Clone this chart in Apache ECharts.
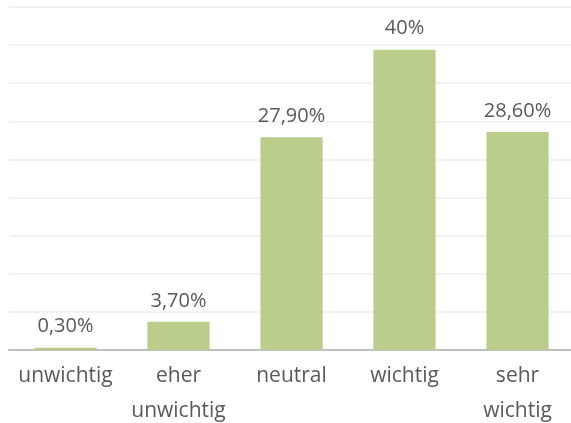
<!DOCTYPE html>
<html><head><meta charset="utf-8">
<script src="https://cdn.jsdelivr.net/npm/echarts@6/dist/echarts.min.js"></script>
<style>html,body{margin:0;padding:0;background:#fff}#c{width:571px;height:423px}</style>
</head><body><div id="c"></div>
<script>
const categories = ['unwichtig', 'eher\nunwichtig', 'neutral', 'wichtig', 'sehr\nwichtig'];
const values = [0.3, 3.7, 27.9, 39.4, 28.6];
const valueLabels = ['0,30%', '3,70%', '27,90%', '40%', '28,60%'];

const chart = echarts.init(document.getElementById('c'), null, {renderer: 'canvas'});
chart.setOption({
  animation: false,
  grid: {left: 9, right: -3, top: 7, bottom: 73, containLabel: false, outerBoundsMode: 'none'},
  xAxis: {
    type: 'category', data: categories,
    axisLine: {lineStyle: {color: '#bfbfbf', width: 2}},
    axisTick: {show: false},
    axisLabel: {color: '#595959', fontSize: 21, fontFamily: 'Open Sans', lineHeight: 35, margin: 9, interval: 0}
  },
  yAxis: {
    type: 'value', min: 0, max: 45, interval: 5,
    axisLabel: {show: false}, axisLine: {show: false}, axisTick: {show: false},
    splitLine: {lineStyle: {color: '#eeeeee', width: 1.5}}
  },
  series: [{
    type: 'bar', data: values, barWidth: '55%',
    itemStyle: {color: '#bacd8a'},
    label: {show: true, position: 'top', distance: 11, color: '#595959', fontSize: 20, fontFamily: 'Open Sans',
      formatter: p => valueLabels[p.dataIndex]}
  }]
});
</script></body></html>
